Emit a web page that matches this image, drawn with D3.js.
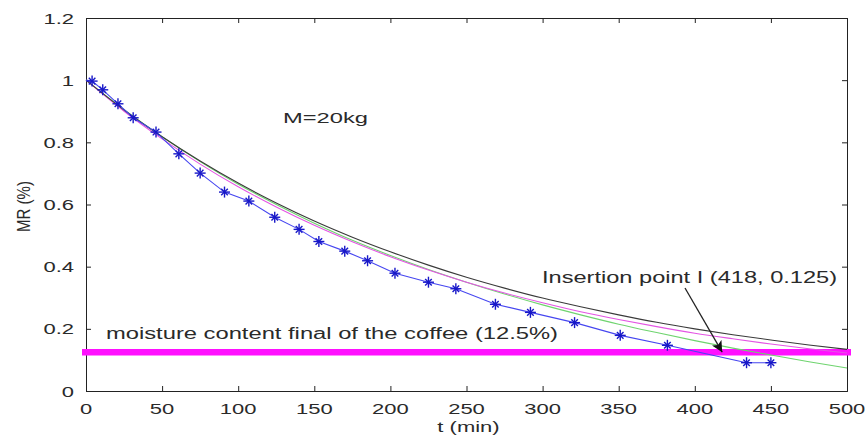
<!DOCTYPE html>
<html>
<head>
<meta charset="utf-8">
<script src="https://cdn.jsdelivr.net/npm/d3@7"></script>
<style>
  html, body { margin: 0; padding: 0; background: #fff; }
  svg { display: block; }
  text { font-family: "Liberation Sans", Arial, Helvetica, sans-serif; fill: #2a2a2a; }
</style>
</head>
<body>
<svg id="chart" width="867" height="439"></svg>
<script>
// Measured drying data (moisture ratio vs time) for a 20 kg batch
const timeMin = [4, 11, 21, 31, 46, 61, 75, 91, 107, 124, 140, 153, 170, 185, 203, 225, 243, 269, 292, 321, 351, 382, 434, 450];
const mrMeasured = [0.997, 0.969, 0.924, 0.879, 0.833, 0.763, 0.701, 0.640, 0.611, 0.559, 0.520, 0.481, 0.450, 0.419, 0.379, 0.350, 0.329, 0.279, 0.253, 0.220, 0.179, 0.147, 0.091, 0.091];

// Fitted model curves, sampled every 25 min
const modelTime = [0, 25, 50, 75, 100, 125, 150, 175, 200, 225, 250, 275, 300, 325, 350, 375, 400, 425, 450, 475, 500];
const modelBlack = [1.000, 0.904, 0.818, 0.740, 0.669, 0.605, 0.547, 0.495, 0.448, 0.405, 0.366, 0.331, 0.299, 0.271, 0.245, 0.221, 0.200, 0.181, 0.164, 0.148, 0.134];
const modelPink = [1.000, 0.900, 0.811, 0.730, 0.657, 0.592, 0.533, 0.480, 0.432, 0.389, 0.350, 0.315, 0.284, 0.255, 0.230, 0.207, 0.186, 0.168, 0.151, 0.136, 0.122];
const modelGreen = [1.000, 0.905, 0.818, 0.738, 0.665, 0.600, 0.540, 0.485, 0.436, 0.391, 0.350, 0.312, 0.277, 0.245, 0.215, 0.188, 0.162, 0.138, 0.116, 0.094, 0.074];

// Target final moisture content and the insertion point
const finalMoisture = 0.125;
const insertionPoint = [418, 0.125];

const xTicks = [0, 50, 100, 150, 200, 250, 300, 350, 400, 450, 500];
const yTicks = [0, 0.2, 0.4, 0.6, 0.8, 1, 1.2];

const W = 867, H = 439;
const margin = { top: 18, right: 20, bottom: 48, left: 86 };
const svg = d3.select("#chart");

const x = d3.scaleLinear().domain([0, 500]).range([margin.left, W - margin.right]);
const y = d3.scaleLinear().domain([0, 1.2]).range([H - margin.bottom, margin.top]);

const SX = 1.42; // horizontal stretch of the lettering

// Frame with inward ticks on all four sides
const tickLen = 5;
const xAxisB = d3.axisBottom(x).tickValues(xTicks).tickSize(-tickLen).tickFormat("");
const xAxisT = d3.axisTop(x).tickValues(xTicks).tickSize(-tickLen).tickFormat("");
const yAxisL = d3.axisLeft(y).tickValues(yTicks).tickSize(-tickLen).tickFormat("");
const yAxisR = d3.axisRight(y).tickValues(yTicks).tickSize(-tickLen).tickFormat("");

function styleAxis(g) {
  g.selectAll("path, line").attr("stroke", "#222").attr("stroke-width", 1);
}
svg.append("g").attr("transform", `translate(0,${y(0)})`).call(xAxisB).call(styleAxis);
svg.append("g").attr("transform", `translate(0,${y(1.2)})`).call(xAxisT).call(styleAxis);
svg.append("g").attr("transform", `translate(${x(0)},0)`).call(yAxisL).call(styleAxis);
svg.append("g").attr("transform", `translate(${x(500)},0)`).call(yAxisR).call(styleAxis);

// Tick labels
const fmtY = d => (d === 0 || d === 1) ? String(d) : d.toFixed(1);
svg.append("g").selectAll("text").data(yTicks).join("text")
  .attr("transform", d => `translate(${x(0) - 12},${y(d) + 5.5}) scale(${SX},1)`)
  .attr("text-anchor", "end")
  .attr("font-size", 15.5)
  .text(fmtY);
svg.append("g").selectAll("text").data(xTicks).join("text")
  .attr("transform", d => `translate(${x(d)},${y(0) + 22.5}) scale(${SX},1)`)
  .attr("text-anchor", "middle")
  .attr("font-size", 15.5)
  .text(d => d);

// Axis titles
svg.append("text")
  .attr("transform", `translate(${(x(0) + x(500)) / 2 + 2},432) scale(${SX},1)`)
  .attr("text-anchor", "middle").attr("font-size", 15.5)
  .text("t (min)");
svg.append("text")
  .attr("transform", `translate(30,${(y(0) + y(1.2)) / 2 + 2}) rotate(-90) scale(1,1.25)`)
  .attr("text-anchor", "middle").attr("font-size", 15)
  .text("MR (%)");

// Final moisture content band
svg.append("line")
  .attr("x1", x(0) - 4).attr("x2", x(500) + 4)
  .attr("y1", y(finalMoisture)).attr("y2", y(finalMoisture))
  .attr("stroke", "#ff10ff").attr("stroke-width", 6.5);

// Model curves
const lineGen = d3.line().x(d => x(d[0])).y(d => y(d[1])).curve(d3.curveMonotoneX);
const models = [
  { values: modelGreen, color: "#6fd46f" },
  { values: modelPink, color: "#e455e4" },
  { values: modelBlack, color: "#3a3a3a" }
];
models.forEach(m => {
  svg.append("path")
    .datum(modelTime.map((t, i) => [t, m.values[i]]))
    .attr("d", lineGen)
    .attr("fill", "none")
    .attr("stroke", m.color)
    .attr("stroke-width", 1.1);
});

// Measured series: line and star markers
const measured = timeMin.map((t, i) => [t, mrMeasured[i]]);
svg.append("path")
  .datum([[0, 1.0]].concat(measured))
  .attr("d", d3.line().x(d => x(d[0])).y(d => y(d[1])))
  .attr("fill", "none")
  .attr("stroke", "#4646f0")
  .attr("stroke-width", 1.1);

const r = 5.5;
const stars = svg.append("g").selectAll("g").data(measured).join("g")
  .attr("transform", d => `translate(${x(d[0])},${y(d[1])})`)
  .attr("stroke", "#1818c8").attr("stroke-width", 1.4);
stars.append("line").attr("x1", -r).attr("x2", r).attr("y1", 0).attr("y2", 0);
stars.append("line").attr("x1", 0).attr("x2", 0).attr("y1", -r).attr("y2", r);
stars.append("line").attr("x1", -r * 0.6).attr("x2", r * 0.6).attr("y1", -r * 0.6).attr("y2", r * 0.6);
stars.append("line").attr("x1", -r * 0.6).attr("x2", r * 0.6).attr("y1", r * 0.6).attr("y2", -r * 0.6);

// Annotations
svg.append("text")
  .attr("x", 283).attr("y", 123)
  .attr("font-size", 15.5)
  .attr("textLength", 85).attr("lengthAdjust", "spacingAndGlyphs")
  .text("M=20kg");
svg.append("text")
  .attr("x", 106).attr("y", 339)
  .attr("font-size", 16)
  .attr("textLength", 452).attr("lengthAdjust", "spacingAndGlyphs")
  .text("moisture content final of the coffee (12.5%)");
svg.append("text")
  .attr("x", 542).attr("y", 283)
  .attr("font-size", 16)
  .attr("textLength", 295).attr("lengthAdjust", "spacingAndGlyphs")
  .text("Insertion point I (418, 0.125)");

// Arrow to the insertion point
svg.append("defs").append("marker")
  .attr("id", "head").attr("viewBox", "0 0 10 10")
  .attr("refX", 10).attr("refY", 5)
  .attr("markerWidth", 12).attr("markerHeight", 11)
  .attr("markerUnits", "userSpaceOnUse")
  .attr("orient", "auto")
  .append("path").attr("d", "M0,0 L10,5 L0,10 L2.5,5 Z").attr("fill", "#111");
svg.append("line")
  .attr("x1", 685).attr("y1", 288)
  .attr("x2", x(insertionPoint[0])).attr("y2", y(insertionPoint[1]))
  .attr("stroke", "#222").attr("stroke-width", 1.3)
  .attr("marker-end", "url(#head)");
</script>
</body>
</html>
